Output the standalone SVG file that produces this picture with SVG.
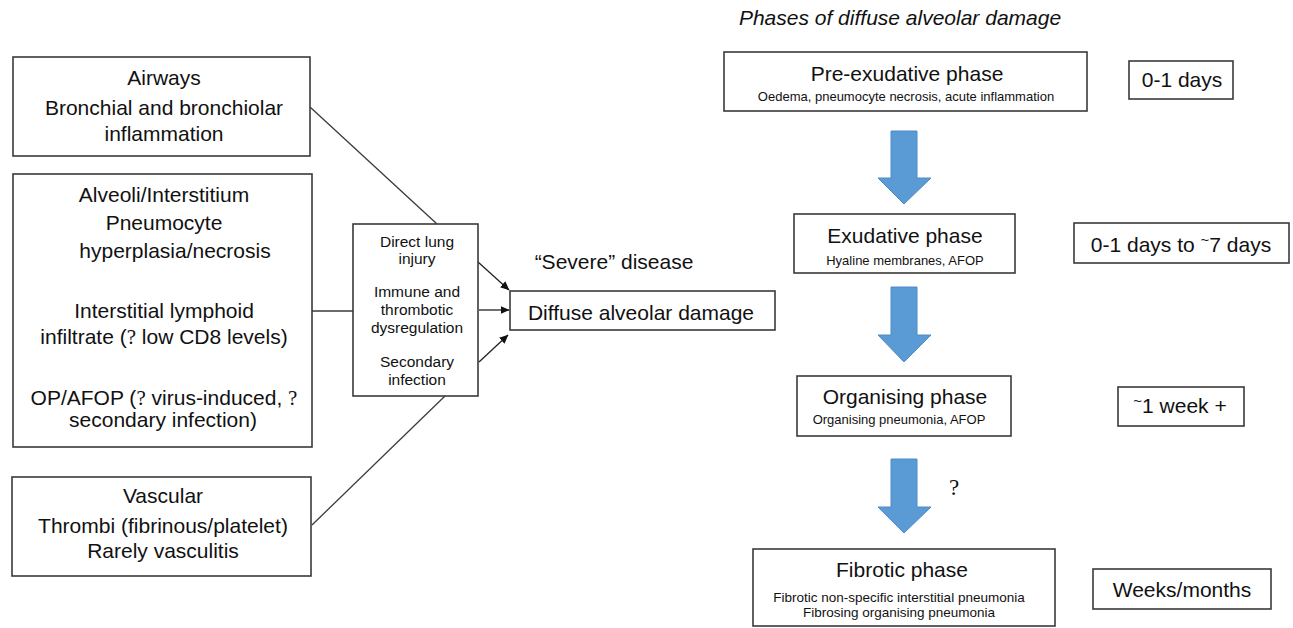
<svg xmlns="http://www.w3.org/2000/svg" width="1293" height="628" viewBox="0 0 1293 628">
<style>
text{font-family:"Liberation Sans",Arial,Helvetica,sans-serif;fill:#111;text-anchor:middle}
.box{fill:#fff;stroke:#3a3a3a;stroke-width:1.6}
.big{font-size:21px}
.mid{font-size:15.5px}
.small{font-size:13px}
.q{font-family:"Liberation Serif","Times New Roman",serif}
.line{stroke:#3a3a3a;stroke-width:1.3;fill:none}
.arr{stroke:#222;stroke-width:1.3;fill:none;marker-end:url(#ah)}
.blue{fill:#5b9bd5;stroke:#4f8cc6;stroke-width:1}
</style>
<defs>
<marker id="ah" markerWidth="9" markerHeight="8" refX="8.5" refY="4" orient="auto" markerUnits="userSpaceOnUse">
<path d="M0,0 L9,4 L0,8 Z" fill="#111"/>
</marker>
</defs>
<rect width="1293" height="628" fill="#fff"/>

<g id="connectors">
<line class="line" x1="310" y1="107" x2="437" y2="224"/>
<line class="line" x1="312" y1="311" x2="353" y2="311"/>
<line class="line" x1="312" y1="525" x2="445" y2="396"/>
<line class="arr" x1="478" y1="262" x2="509" y2="290"/>
<line class="arr" x1="479" y1="310" x2="509" y2="310"/>
<line class="arr" x1="479" y1="362" x2="508" y2="335"/>
<path class="blue" d="M891,131 H917 V178 H931 L904,204 L878,178 H891 Z"/>
<path class="blue" d="M891,287 H917 V335 H931 L904,362 L878,335 H891 Z"/>
<path class="blue" d="M891,459 H917 V507 H931 L904,533 L878,507 H891 Z"/>
<text class="q" x="954" y="495" style="font-size:23px">?</text>
</g>

<g id="airways">
<rect class="box" x="13" y="57" width="297" height="99"/>
<text class="big" x="164" y="85">Airways</text>
<text class="big" x="164" y="115">Bronchial and bronchiolar</text>
<text class="big" x="164" y="141">inflammation</text>
</g>

<g id="alveoli">
<rect class="box" x="13" y="174" width="299" height="273"/>
<text class="big" x="164" y="202">Alveoli/Interstitium</text>
<text class="big" x="164" y="230">Pneumocyte</text>
<text class="big" x="175" y="258">hyperplasia/necrosis</text>
<text class="big" x="164" y="318">Interstitial lymphoid</text>
<text class="big" x="164" y="344">infiltrate (<tspan class="q">?</tspan> low CD8 levels)</text>
<text class="big" x="164" y="405">OP/AFOP (<tspan class="q">?</tspan> virus-induced, <tspan class="q">?</tspan></text>
<text class="big" x="163" y="427">secondary infection)</text>
</g>

<g id="vascular">
<rect class="box" x="12" y="477" width="299" height="99"/>
<text class="big" x="163" y="503">Vascular</text>
<text class="big" x="163" y="533">Thrombi (fibrinous/platelet)</text>
<text class="big" x="163" y="558">Rarely vasculitis</text>
</g>

<g id="mechanisms">
<rect class="box" x="353" y="224" width="125" height="172"/>
<text class="mid" x="417" y="247">Direct lung</text>
<text class="mid" x="417" y="264">injury</text>
<text class="mid" x="417" y="297">Immune and</text>
<text class="mid" x="417" y="315">thrombotic</text>
<text class="mid" x="417" y="333">dysregulation</text>
<text class="mid" x="417" y="367">Secondary</text>
<text class="mid" x="417" y="385">infection</text>
</g>

<g id="severe-label">
<text class="big" x="614" y="269">“Severe” disease</text>
</g>

<g id="dad">
<rect class="box" x="510" y="291" width="265" height="39"/>
<text class="big" x="641" y="320">Diffuse alveolar damage</text>
</g>

<g id="title">
<text class="big" x="900" y="25" style="font-style:italic">Phases of diffuse alveolar damage</text>
</g>

<g id="pre-exudative">
<rect class="box" x="724" y="52" width="363" height="59"/>
<text class="big" x="907" y="81">Pre-exudative phase</text>
<text class="small" x="906" y="101">Oedema, pneumocyte necrosis, acute inflammation</text>
</g>
<g id="days-0-1">
<rect class="box" x="1129" y="61" width="104" height="38"/>
<text class="big" x="1182" y="87">0-1 days</text>
</g>

<g id="exudative">
<rect class="box" x="794" y="214" width="221" height="59"/>
<text class="big" x="905" y="243">Exudative phase</text>
<text class="small" x="905" y="265">Hyaline membranes, AFOP</text>
</g>
<g id="days-0-7">
<rect class="box" x="1074" y="223" width="215" height="40"/>
<text class="big" x="1181" y="252">0-1 days to <tspan style="font-size:15px" dy="-7">~</tspan><tspan dy="7">7 days</tspan></text>
</g>

<g id="organising">
<rect class="box" x="797" y="376" width="214" height="60"/>
<text class="big" x="905" y="404">Organising phase</text>
<text class="small" x="899" y="424">Organising pneumonia, AFOP</text>
</g>
<g id="week-1">
<rect class="box" x="1118" y="387" width="126" height="39"/>
<text class="big" x="1180" y="413"><tspan style="font-size:15px" dy="-7">~</tspan><tspan dy="7">1 week +</tspan></text>
</g>

<g id="fibrotic">
<rect class="box" x="753" y="549" width="302" height="77"/>
<text class="big" x="902" y="577">Fibrotic phase</text>
<text class="small" x="899" y="602" style="font-size:13.5px">Fibrotic non-specific interstitial pneumonia</text>
<text class="small" x="899" y="617" style="font-size:13.5px">Fibrosing organising pneumonia</text>
</g>
<g id="weeks-months">
<rect class="box" x="1093" y="569" width="178" height="40"/>
<text class="big" x="1182" y="597">Weeks/months</text>
</g>
</svg>
